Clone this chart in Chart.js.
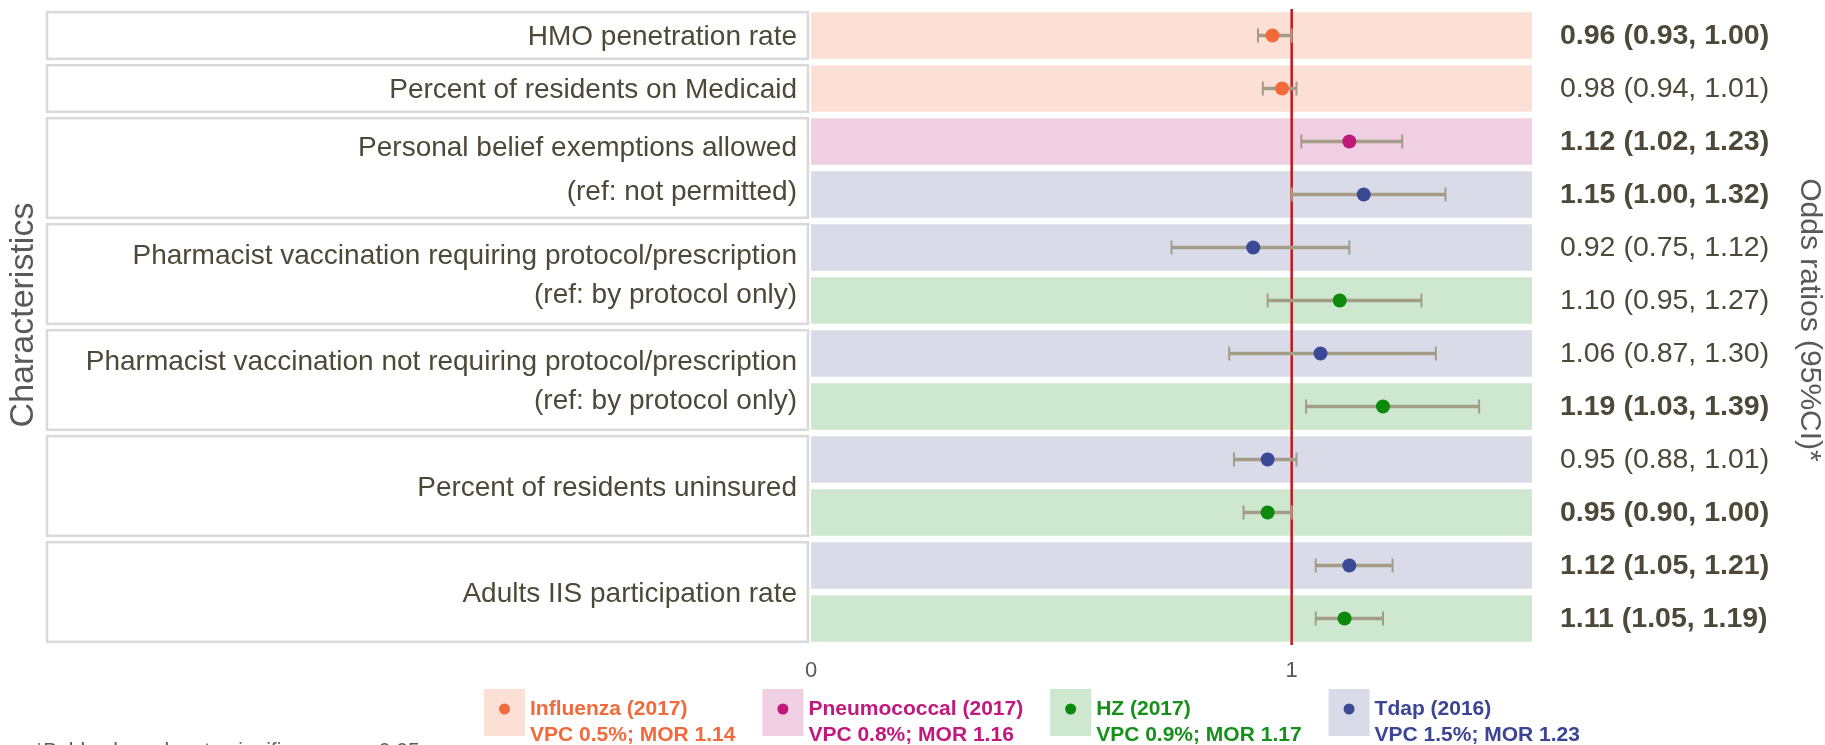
<!DOCTYPE html>
<html>
<head>
<meta charset="utf-8">
<script src="https://cdn.jsdelivr.net/npm/chart.js@4"></script>
<style>
  body { margin: 0; background: #fff; }
  #wrap { width: 1825px; height: 745px; position: relative; }
</style>
</head>
<body>
<div id="wrap"><canvas id="forestChart"></canvas></div>
<script>
// rows, top to bottom
const rowVaccine = ['flu','flu','pneumo','tdap','tdap','hz','tdap','hz','tdap','hz','tdap','hz'];
const oddsRatio = [0.96, 0.98, 1.12, 1.15, 0.92, 1.10, 1.06, 1.19, 0.95, 0.95, 1.12, 1.11];
const ciLow     = [0.93, 0.94, 1.02, 1.00, 0.75, 0.95, 0.87, 1.03, 0.88, 0.90, 1.05, 1.05];
const ciHigh    = [1.00, 1.01, 1.23, 1.32, 1.12, 1.27, 1.30, 1.39, 1.01, 1.00, 1.21, 1.19];
const significant = [true, false, true, true, false, false, false, true, false, true, true, true];

// characteristic groups (label lines, number of rows each covers)
const groupLabels = [
    ['HMO penetration rate'],
    ['Percent of residents on Medicaid'],
    ['Personal belief exemptions allowed', '(ref: not permitted)'],
    ['Pharmacist vaccination requiring protocol/prescription', '(ref: by protocol only)'],
    ['Pharmacist vaccination not requiring protocol/prescription', '(ref: by protocol only)'],
    ['Percent of residents uninsured'],
    ['Adults IIS participation rate']
];
const groupRows = [1, 1, 2, 2, 2, 2, 2];

// legend
const vaccineKeys = ['flu', 'pneumo', 'hz', 'tdap'];
const vaccineNames = ['Influenza (2017)', 'Pneumococcal (2017)', 'HZ (2017)', 'Tdap (2016)'];
const vaccineStats = ['VPC 0.5%; MOR 1.14', 'VPC 0.8%; MOR 1.16', 'VPC 0.9%; MOR 1.17', 'VPC 1.5%; MOR 1.23'];

const xTickValues = [0, 1];
const xMax = 1.5;
const refValue = 1;

const dotColor  = { flu: '#f26a3b', pneumo: '#c0177b', hz: '#0b8a0b', tdap: '#3b4a97' };
const bandColor = { flu: '#fce0d6', pneumo: '#f0cfe3', hz: '#cde8cf', tdap: '#d9dbe8' };
const textColor = { flu: '#f26a3b', pneumo: '#c2187e', hz: '#17901a', tdap: '#3b4594' };
const barColor = '#a39c86';
const inkColor = '#4d4838';
const axisColor = '#595959';
const FONT = "'Liberation Sans', Arial, sans-serif";

const rowKeys = oddsRatio.map((v, i) => 'r' + i);

Chart.defaults.font.family = FONT;

const sidePanel = {
    id: 'sidePanel',
    afterDatasetDraw(chart, args) {
        // reference line sits over the bands, under the intervals
        if (args.index !== 0) return;
        const { ctx, chartArea, scales } = chart;
        const x = scales.x.getPixelForValue(refValue);
        ctx.save();
        ctx.strokeStyle = '#c4161c';
        ctx.lineWidth = 2.5;
        ctx.beginPath();
        ctx.moveTo(x, chartArea.top);
        ctx.lineTo(x, chartArea.bottom);
        ctx.stroke();
        ctx.restore();
    },
    afterDraw(chart) {
        const { ctx, scales } = chart;
        const y = scales.y;
        const bands = chart.getDatasetMeta(0).data;
        ctx.save();

        // characteristic boxes on the left
        let row = 0;
        groupLabels.forEach((lines, g) => {
            const first = bands[row], last = bands[row + groupRows[g] - 1];
            const top = first.y - first.height / 2;
            const bottom = last.y + last.height / 2;
            ctx.strokeStyle = '#d9d9d9';
            ctx.lineWidth = 2.5;
            ctx.strokeRect(47, top, 761, bottom - top);
            ctx.fillStyle = inkColor;
            ctx.font = '28px ' + FONT;
            ctx.textAlign = 'right';
            ctx.textBaseline = 'middle';
            const mid = (top + bottom) / 2 + 2;
            const gap = lines.length > 1 && g === 2 ? 44 : 39;
            lines.forEach((t, k) => {
                ctx.fillText(t, 797, mid + (k - (lines.length - 1) / 2) * gap);
            });
            row += groupRows[g];
        });

        // odds ratio text on the right
        ctx.textAlign = 'left';
        ctx.textBaseline = 'middle';
        oddsRatio.forEach((v, i) => {
            ctx.font = (significant[i] ? 'bold ' : '') + '28.5px ' + FONT;
            ctx.fillStyle = inkColor;
            const s = v.toFixed(2) + ' (' + ciLow[i].toFixed(2) + ', ' + ciHigh[i].toFixed(2) + ')';
            ctx.fillText(s, 1560, y.getPixelForValue(i) + 1);
        });

        // axis titles
        ctx.fillStyle = axisColor;
        ctx.textAlign = 'center';
        ctx.font = '34px ' + FONT;
        ctx.save();
        ctx.translate(24, 315);
        ctx.rotate(-Math.PI / 2);
        ctx.fillText('Characteristics', 0, 0);
        ctx.restore();
        ctx.font = '30px ' + FONT;
        ctx.save();
        ctx.translate(1809, 320);
        ctx.rotate(Math.PI / 2);
        ctx.fillText('Odds ratios (95%CI)*', 0, 0);
        ctx.restore();

        // legend
        let lx = 484;
        vaccineKeys.forEach((k, i) => {
            ctx.fillStyle = bandColor[k];
            ctx.fillRect(lx, 689, 41, 47);
            ctx.fillStyle = dotColor[k];
            ctx.beginPath();
            ctx.arc(lx + 20.5, 709, 5.5, 0, Math.PI * 2);
            ctx.fill();
            ctx.fillStyle = textColor[k];
            ctx.font = 'bold 21px ' + FONT;
            ctx.textAlign = 'left';
            ctx.textBaseline = 'middle';
            ctx.fillText(vaccineNames[i], lx + 46, 709);
            ctx.fillText(vaccineStats[i], lx + 46, 735);
            const w = Math.max(ctx.measureText(vaccineNames[i]).width, ctx.measureText(vaccineStats[i]).width);
            lx += 46 + w + 27;
        });

        // footnote, cut by the bottom edge
        ctx.fillStyle = axisColor;
        ctx.font = '21px ' + FONT;
        ctx.textBaseline = 'alphabetic';
        ctx.fillText('*Bold values denote significance p < 0.05', 35, 757);
        ctx.restore();
    }
};

new Chart(document.getElementById('forestChart'), {
    type: 'bar',
    data: {
        labels: rowKeys,
        datasets: [
            {
                // coloured row bands
                type: 'bar',
                indexAxis: 'y',
                data: rowKeys.map(() => [0, xMax]),
                backgroundColor: rowVaccine.map(k => bandColor[k]),
                barPercentage: 0.88,
                categoryPercentage: 1,
                grouped: false,
                order: 3
            },
            {
                // confidence intervals
                type: 'bar',
                indexAxis: 'y',
                data: ciLow.map((lo, i) => [lo, ciHigh[i]]),
                backgroundColor: barColor,
                barThickness: 3,
                grouped: false,
                order: 2
            },
            {
                // interval caps
                type: 'scatter',
                data: ciLow.flatMap((lo, i) => [{ x: lo, y: rowKeys[i] }, { x: ciHigh[i], y: rowKeys[i] }]),
                pointStyle: 'line',
                rotation: 90,
                pointRadius: 7,
                borderColor: barColor,
                borderWidth: 2,
                order: 1
            },
            {
                // point estimates
                type: 'scatter',
                data: oddsRatio.map((v, i) => ({ x: v, y: rowKeys[i] })),
                pointRadius: 7,
                pointBackgroundColor: rowVaccine.map(k => dotColor[k]),
                pointBorderWidth: 0,
                order: 0
            }
        ]
    },
    options: {
        indexAxis: 'y',
        responsive: true,
        maintainAspectRatio: false,
        animation: false,
        events: [],
        layout: { padding: { left: 811, right: 293, top: 5, bottom: 60 } },
        plugins: { legend: { display: false }, tooltip: { enabled: false } },
        scales: {
            x: {
                type: 'linear',
                min: 0,
                max: xMax,
                grid: { display: false },
                border: { display: false },
                afterBuildTicks: axis => { axis.ticks = xTickValues.map(v => ({ value: v })); },
                afterFit: axis => { axis.height = 40; },
                ticks: {
                    color: axisColor,
                    font: { size: 22 },
                    padding: 5,
                    callback: v => String(v)
                }
            },
            y: {
                type: 'category',
                labels: rowKeys,
                offset: true,
                display: false
            }
        }
    },
    plugins: [sidePanel]
});
</script>
</body>
</html>
